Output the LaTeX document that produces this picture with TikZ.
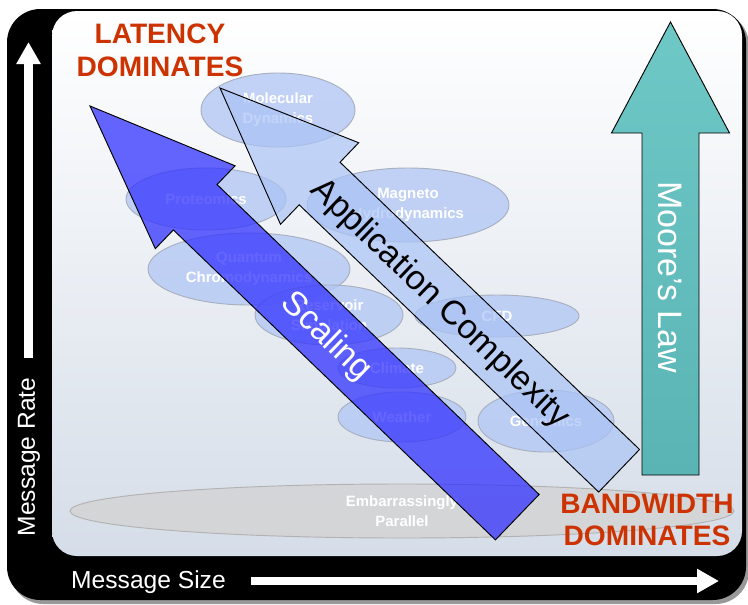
\documentclass[tikz,border=0pt]{standalone}
\usepackage{fontspec}
\setmainfont{Liberation Sans}
\usetikzlibrary{positioning, shapes.geometric, arrows.meta}

\definecolor{domred}{RGB}{204,51,0}
\definecolor{panelbot}{RGB}{213,221,232}
\definecolor{ellblue}{RGB}{180,200,245}
\definecolor{ellborder}{RGB}{168,176,192}
\definecolor{ellgray}{RGB}{212,212,214}
\definecolor{scaleblue}{RGB}{51,51,255}
\definecolor{applblue}{RGB}{170,195,245}
\definecolor{mooretop}{RGB}{110,200,198}
\definecolor{moorebot}{RGB}{90,180,180}

\tikzset{
  appl/.style={ellipse, draw=ellborder, line width=0.8pt, fill=ellblue, fill opacity=0.8, text opacity=1,
    text=white, inner sep=0pt, align=center, font=\fontsize{12.75}{17}\selectfont\bfseries},
  domtext/.style={text=domred, align=center, font=\fontsize{24}{28}\selectfont\bfseries},
  axistext/.style={text=white, font=\fontsize{21}{25}\selectfont},
  axisarrow/.style={draw=white, line width=0.24cm, -{Triangle[width=0.69cm, length=0.66cm]}},
  bigarrow/.style={draw=black, line width=0.8pt, line join=miter},
  arrowtext/.style={inner sep=0pt, font=\fontsize{29}{34}\selectfont},
}

\begin{document}
\begin{tikzpicture}[x=0.03cm, y=-0.03cm]
  \useasboundingbox (0,0) rectangle (748,604);

  % frame and panel
  \fill[black!40, rounded corners=1cm] (10,12) rectangle (749,604);
  \fill[black, rounded corners=1cm] (7,9) rectangle (746,600);
  \shade[top color=white, bottom color=panelbot, rounded corners=0.75cm] (52,11) rectangle (742,556);

  % axes
  \coordinate (rate start) at (28.5,358);
  \coordinate (rate end) at (28.5,42);
  \coordinate (size start) at (251,581);
  \coordinate (size end) at (719,581);
  \draw[axisarrow] (rate start) -- (rate end);
  \draw[axisarrow] (size start) -- (size end);
  \node[axistext, rotate=90] (rate) at (29,457) {Message Rate};
  \node[axistext] (size) at (148.5,582) {Message Size};

  % applications
  \node[appl, minimum width=4.62cm, minimum height=2.22cm] (molecular) at (278,110) {Molecular\\Dynamics};
  \node[appl, minimum width=4.8cm, minimum height=1.86cm] (proteomics) at (206,199) {Proteomics};
  \node[appl, minimum width=6.06cm, minimum height=2.22cm] (magneto) at (408,205) {Magneto\\Hydrodynamics};
  \node[appl, minimum width=6.06cm, minimum height=2.16cm] (quantum) at (249,269) {Quantum\\Chromodynamics};
  \node[appl, minimum width=4.44cm, minimum height=1.8cm] (reservoir) at (329,315) {Reservoir\\Simulation};
  \node[appl, minimum width=4.92cm, minimum height=1.26cm] (cfd) at (497,316) {CFD};
  \node[appl, minimum width=3.54cm, minimum height=1.2cm] (climate) at (397,368) {Climate};
  \node[appl, minimum width=3.84cm, minimum height=1.5cm] (weather) at (402,417) {Weather};
  \node[appl, minimum width=4.08cm, minimum height=1.86cm] (genomics) at (546,421) {Genomics};
  \node[appl, draw=black!30, fill=ellgray, fill opacity=0.9, minimum width=19.92cm, minimum height=1.62cm] (parallel) at (402,511) {Embarrassingly\\Parallel};

  % scaling arrow
  \begin{scope}[shift={(90,106)}, rotate=-43.9]
    \draw[bigarrow, fill=scaleblue, fill opacity=0.75] (0,0) -- (146,57.5) -- (146,31.5) -- (593,31.5)
      -- (593,-31.5) -- (146,-31.5) -- (146,-57.5) -- cycle;
  \end{scope}
  % application complexity arrow
  \begin{scope}[shift={(220,88)}, rotate=-43.8]
    \draw[bigarrow, fill=applblue, fill opacity=0.7] (0,0) -- (138,56.5) -- (138,29.5) -- (553,29.5)
      -- (553,-29.5) -- (138,-29.5) -- (138,-56.5) -- cycle;
  \end{scope}
  % moore's law arrow
  \draw[bigarrow, top color=mooretop, bottom color=moorebot] (670.5,22) -- (729.5,133) -- (699,133)
    -- (699,475) -- (642,475) -- (642,133) -- (611.5,133) -- cycle;

  \node[arrowtext, text=white, rotate=-44] (scaling) at (326,337) {Scaling};
  \node[arrowtext, rotate=-43.8] (complexity) at (440,304) {Application Complexity};
  \node[arrowtext, text=white, rotate=-90] (moore) at (670,277) {Moore's Law};

  \node[domtext] (latency) at (160,50) {LATENCY\\DOMINATES};
  \node[domtext] (bandwidth) at (647,520) {BANDWIDTH\\DOMINATES};
\end{tikzpicture}
\end{document}
